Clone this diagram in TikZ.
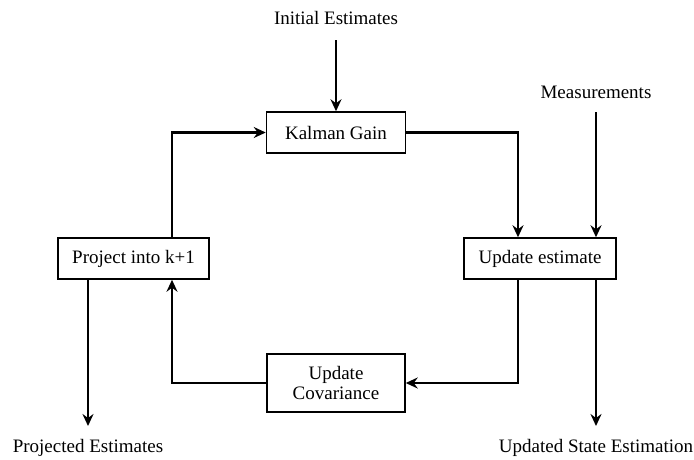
\documentclass[tikz,border=0pt]{standalone}
\usepackage{fontspec}
\setmainfont{Liberation Serif}
\usetikzlibrary{arrows.meta}
\begin{document}
\begin{tikzpicture}[x=1pt,y=-1pt,
  box/.style={draw,line width=1.5pt,minimum height=41pt,inner sep=0pt,align=center,font=\fontsize{19}{23}\selectfont},
  lbl/.style={inner sep=0pt,font=\fontsize{19}{23}\selectfont},
  flow/.style={line width=2.4pt,-{Stealth[length=12pt,width=11pt,inset=4pt]}}]
\useasboundingbox (0,0) rectangle (694,459);
% process boxes
\node[box,minimum width=139pt] (gain) at (336,132.5) {Kalman Gain};
\node[box,minimum width=152pt] (upd)  at (540,258.5) {Update estimate};
\node[box,minimum width=151pt] (proj) at (133.5,258.5) {Project into k+1};
\node[box,minimum width=138pt,minimum height=58pt] (cov) at (336,383) {Update\\[-3pt]Covariance};
% inputs and outputs
\node[lbl] (init) at (336,18) {Initial Estimates};
\node[lbl] (meas) at (596,92) {Measurements};
\node[lbl] (pest) at (88,448) {Projected Estimates};
\node[lbl] (uest) at (596,448) {Updated State Estimation};
\coordinate (pend) at (88,426);
\coordinate (uend) at (596,426);
% connectors
\draw[flow] (init.south |- 0,40) -- (gain.north);
\draw[flow] (meas.south |- 0,112) -- (upd.north -| meas.south);
\draw[flow] (gain.east) -| (upd.north -| 518,0);
\draw[flow] (upd.south -| 518,0) |- (cov.east);
\draw[flow] (cov.west) -| (proj.south -| 172,0);
\draw[flow] (proj.north -| 172,0) |- (gain.west);
\draw[flow] (proj.south -| pend) -- (pend);
\draw[flow] (upd.south -| uend) -- (uend);
\end{tikzpicture}
\end{document}
